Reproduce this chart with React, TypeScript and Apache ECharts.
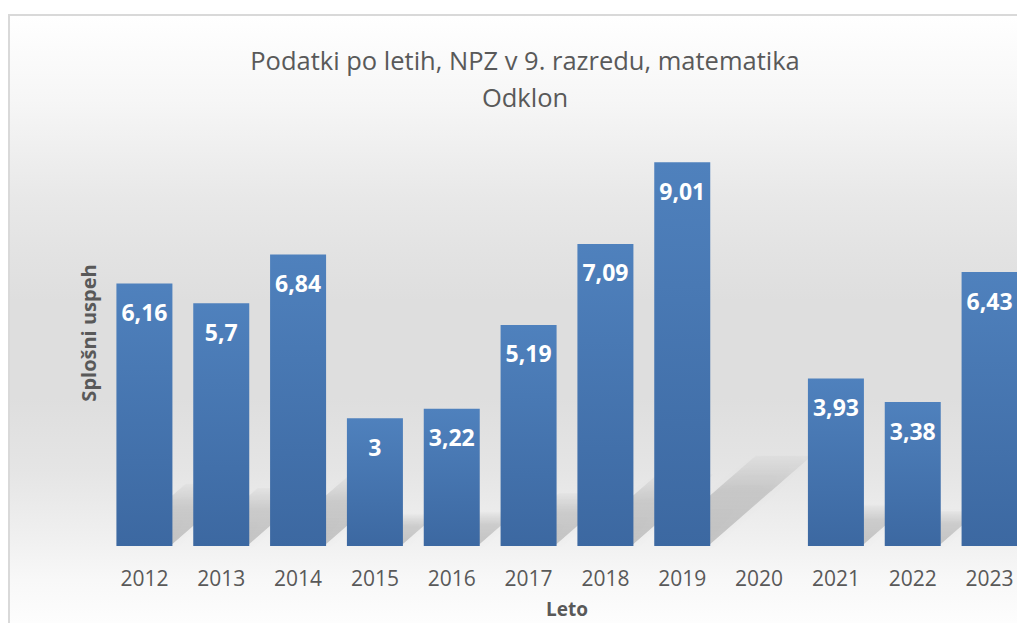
import React, { useEffect, useRef } from "react";
import * as echarts from "echarts";

const years = ["2012", "2013", "2014", "2015", "2016", "2017", "2018", "2019", "2020", "2021", "2022", "2023"];
const values: (number | null)[] = [6.16, 5.7, 6.84, 3, 3.22, 5.19, 7.09, 9.01, null, 3.93, 3.38, 6.43];
const titleLines = ["Podatki po letih, NPZ v 9. razredu, matematika", "Odklon"];
const xName = "Leto";
const yName = "Splošni uspeh";

const FONT = "'Open Sans', sans-serif";
const BAR_W = 56;

export default function App() {
  const ref = useRef<HTMLDivElement>(null);
  useEffect(() => {
    if (!ref.current) return;
    const chart = echarts.init(ref.current, undefined, { renderer: "svg" });
    const shadowData = values
      .map((v, i) => (v == null ? null : [i, v]))
      .filter((d) => d !== null);
    chart.setOption({
      animation: false,
      backgroundColor: {
        type: "linear",
        x: 0, y: 0, x2: 0, y2: 1,
        colorStops: [
          { offset: 0, color: "#ffffff" },
          { offset: 0.14, color: "#f6f6f6" },
          { offset: 0.3, color: "#e8e8e8" },
          { offset: 0.47, color: "#dedede" },
          { offset: 0.63, color: "#dedede" },
          { offset: 0.75, color: "#e5e5e5" },
          { offset: 0.86, color: "#f0f0f0" },
          { offset: 0.93, color: "#f8f8f8" },
          { offset: 1, color: "#fdfdfd" },
        ],
      },
      title: {
        text: titleLines.join("\n"),
        left: 510,
        top: 20,
        textAlign: "center",
        textStyle: {
          fontFamily: FONT,
          fontWeight: "normal",
          fontSize: 25.5,
          lineHeight: 37,
          color: "#595959",
        },
      },
      grid: { left: 96, top: 104, width: 922, height: 430, containLabel: false },
      xAxis: {
        type: "category",
        data: years,
        name: xName,
        nameLocation: "middle",
        nameGap: 53,
        nameTextStyle: { fontFamily: FONT, fontWeight: "bold", fontSize: 19, color: "#595959" },
        axisLine: { show: false },
        axisTick: { show: false },
        axisLabel: { fontFamily: FONT, fontSize: 21, color: "#595959", margin: 21 },
      },
      yAxis: {
        type: "value",
        min: 0,
        max: 10,
        name: yName,
        nameLocation: "middle",
        nameGap: 8,
        nameTextStyle: { fontFamily: FONT, fontWeight: "bold", fontSize: 20, color: "#595959" },
        axisLine: { show: false },
        axisTick: { show: false },
        axisLabel: { show: false },
        splitLine: { show: false },
      },
      series: [
        {
          type: "custom",
          z: 1,
          silent: true,
          data: shadowData,
          renderItem: (params: any, api: any) => {
            const i = api.value(0);
            const v = api.value(1);
            const top = api.coord([i, v]);
            const base = api.coord([i, 0]);
            const h = base[1] - top[1];
            const dy = h * 0.23;
            const dx = dy / 0.87;
            const x0 = base[0] - BAR_W / 2;
            const x1 = base[0] + BAR_W / 2;
            const yb = base[1] - 2;
            return {
              type: "polygon",
              shape: {
                points: [
                  [x0, yb],
                  [x1, yb],
                  [x1 + dx, yb - dy],
                  [x0 + dx, yb - dy],
                ],
              },
              style: {
                fill: {
                  type: "linear",
                  x: 0, y: 1, x2: 0, y2: 0,
                  colorStops: [
                    { offset: 0, color: "rgba(0,0,0,0.18)" },
                    { offset: 0.6, color: "rgba(0,0,0,0.13)" },
                    { offset: 1, color: "rgba(0,0,0,0.02)" },
                  ],
                },
                shadowBlur: 10,
                shadowColor: "rgba(0,0,0,0.12)",
              },
            };
          },
        },
        {
          type: "bar",
          z: 2,
          data: values,
          barWidth: BAR_W,
          itemStyle: {
            color: {
              type: "linear",
              x: 0, y: 0, x2: 0, y2: 1,
              colorStops: [
                { offset: 0, color: "#4f81bd" },
                { offset: 1, color: "#3c68a1" },
              ],
            },
          },
          label: {
            show: true,
            position: "insideTop",
            distance: 17,
            fontFamily: FONT,
            fontWeight: "bold",
            fontSize: 23,
            color: "#ffffff",
            formatter: (p: any) => String(p.value).replace(".", ","),
          },
        },
      ],
    });
    return () => chart.dispose();
  }, []);
  return (
    <div
      style={{
        position: "fixed",
        left: 8,
        top: 8,
        width: 1009,
        height: 615,
        overflow: "hidden",
      }}
    >
      <div
        style={{
          marginTop: 6,
          borderLeft: "2px solid #d9d9d9",
          borderTop: "2px solid #d9d9d9",
          width: 1050,
          height: 607,
        }}
      >
        <div ref={ref} style={{ width: 1050, height: 607 }} />
      </div>
    </div>
  );
}
